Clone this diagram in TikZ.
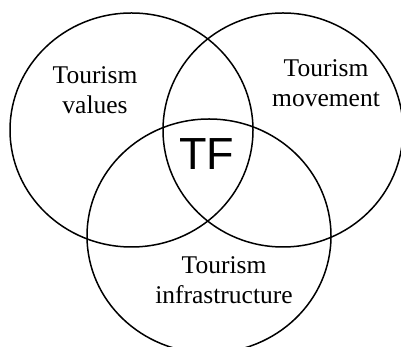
\documentclass[tikz,border=0pt]{standalone}
\usepackage{fontspec}
\setmainfont{Liberation Serif}
\newfontfamily\tfsans{Liberation Sans}
\usetikzlibrary{shapes.geometric}

\tikzset{
  every ring/.style={draw, ellipse, line width=1.5pt, minimum height=234pt, inner sep=0pt},
  area label/.style={align=center, font=\fontsize{25.5}{29.5}\selectfont}
}

\begin{document}
\begin{tikzpicture}[x=1pt, y=1pt]

\useasboundingbox (0,0) rectangle (401,347);
\clip (0,0) rectangle (401,347);

\foreach \n/\x/\y/\w in {values/131.5/217/243, movement/283/217/240, infra/209/111/244}
  \node [every ring/.try, minimum width=\w pt] (ring-\n) at (\x,\y) {};

% labels of the three sets
\node [area label] (lbl-values) at (95,257) {Tourism\\values};
\node [area label] (lbl-movement) at (326,264) {Tourism\\movement};
\node [area label] (lbl-infra) at (224,67) {Tourism\\infrastructure};

\node [font=\tfsans\fontsize{45}{45}\selectfont, inner sep=0pt] (tf) at (206.5,193) {TF};

\end{tikzpicture}
\end{document}
